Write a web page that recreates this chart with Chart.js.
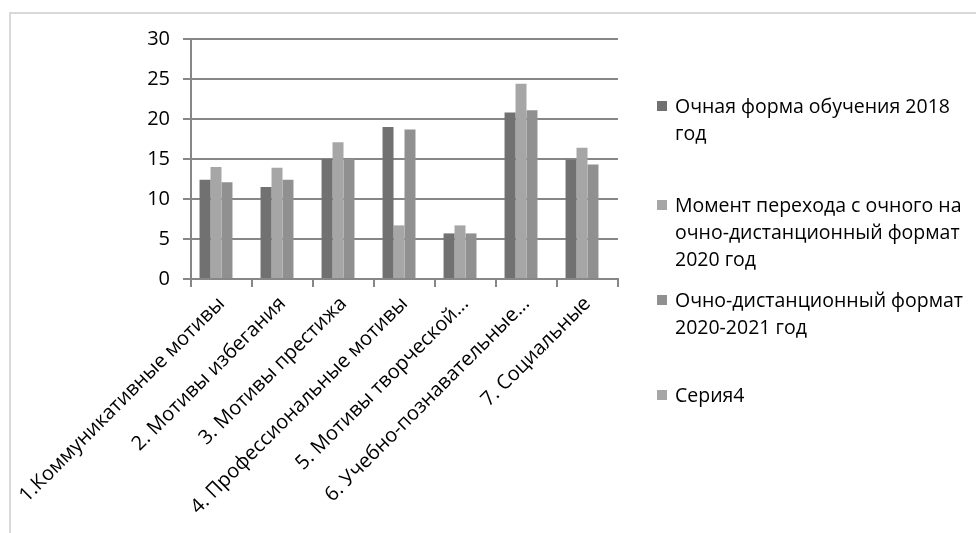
<!DOCTYPE html>
<html lang="ru">
<head>
  <meta charset="UTF-8" />
  <title>Мотивы обучения</title>
  <script src="https://cdn.jsdelivr.net/npm/chart.js"></script>
  <style>
    body {
      margin: 0;
      background: #ffffff;
      font-family: 'Open Sans', sans-serif;
      overflow: hidden;
    }
    #frame {
      position: absolute;
      left: 9px;
      top: 12px;
      width: 1000px;
      height: 600px;
      border: 2px solid #d9d9d9;
    }
    #wrap {
      position: absolute;
      left: 0;
      top: 0;
      width: 976px;
      height: 533px;
    }
    .item {
      position: absolute;
      left: 657px;
      white-space: pre;
      font-size: 19.5px;
      line-height: 27px;
      color: #000;
    }
    .item .box {
      position: absolute;
      left: 0;
      top: 9px;
      width: 10px;
      height: 10px;
    }
    .item .txt {
      margin-left: 18px;
    }
  </style>
</head>
<body>
  <div id="frame"></div>
  <div id="wrap"><canvas id="chart" width="976" height="533"></canvas></div>
  <div id="legend"></div>

  <script>
    const categories = [
      '1.Коммуникативные мотивы',
      '2. Мотивы избегания',
      '3. Мотивы престижа',
      '4. Профессиональные мотивы',
      '5. Мотивы творческой...',
      '6. Учебно-познавательные...',
      '7. Социальные'
    ];
    const seriesNames = [
      'Очная форма обучения 2018\nгод',
      'Момент перехода с очного на\nочно-дистанционный формат\n2020 год',
      'Очно-дистанционный формат\n2020-2021 год',
      'Серия4'
    ];
    const fullTime2018 = [12.4, 11.5, 15.0, 19.0, 5.7, 20.8, 14.9];
    const transition2020 = [14.0, 13.9, 17.1, 6.7, 6.7, 24.4, 16.4];
    const blended2021 = [12.1, 12.4, 15.0, 18.7, 5.7, 21.1, 14.3];
    const series4 = [null, null, null, null, null, null, null];
    const yTicks = [0, 5, 10, 15, 20, 25, 30];

    const colors = ['#717171', '#a6a6a6', '#909090', '#a6a6a6'];
    const legendTops = [92, 191, 286, 381];
    const gridColor = '#878787';

    Chart.defaults.font.family = "'Open Sans', sans-serif";
    Chart.defaults.color = '#000';

    const ctx = document.getElementById('chart').getContext('2d');
    const chart = new Chart(ctx, {
      type: 'bar',
      data: {
        labels: categories,
        datasets: [fullTime2018, transition2020, blended2021, series4].map((d, i) => ({
          label: seriesNames[i],
          data: d,
          backgroundColor: colors[i],
          borderWidth: 0,
          categoryPercentage: 0.72,
          barPercentage: 1
        }))
      },
      options: {
        responsive: false,
        animation: false,
        layout: { padding: { left: 0, right: 358, top: 39, bottom: 0 } },
        plugins: {
          legend: { display: false },
          tooltip: { enabled: false }
        },
        scales: {
          x: {
            offset: true,
            grid: {
              offset: true,
              drawOnChartArea: false,
              drawTicks: true,
              tickLength: 8,
              color: gridColor,
              lineWidth: 2
            },
            border: { color: gridColor, width: 2 },
            ticks: {
              autoSkip: false,
              minRotation: 45,
              maxRotation: 45,
              padding: 5,
              font: { size: 20 },
              color: '#000'
            },
            afterFit: s => { s.height = 254; }
          },
          y: {
            min: 0,
            max: 30,
            afterBuildTicks: s => { s.ticks = yTicks.map(v => ({ value: v })); },
            grid: {
              color: gridColor,
              lineWidth: 2,
              tickLength: 8
            },
            border: { color: gridColor, width: 2 },
            ticks: {
              padding: 13,
              font: { size: 20 },
              color: '#000'
            },
            afterFit: s => { s.width = 191; }
          }
        }
      }
    });

    // legend to the right, one block per series
    const legend = document.getElementById('legend');
    chart.data.datasets.forEach((ds, i) => {
      const item = document.createElement('div');
      item.className = 'item';
      item.style.top = legendTops[i] + 'px';
      item.innerHTML = '<span class="box" style="background:' + ds.backgroundColor + '"></span>' +
        '<div class="txt"></div>';
      item.querySelector('.txt').textContent = ds.label;
      legend.appendChild(item);
    });
  </script>
</body>
</html>
